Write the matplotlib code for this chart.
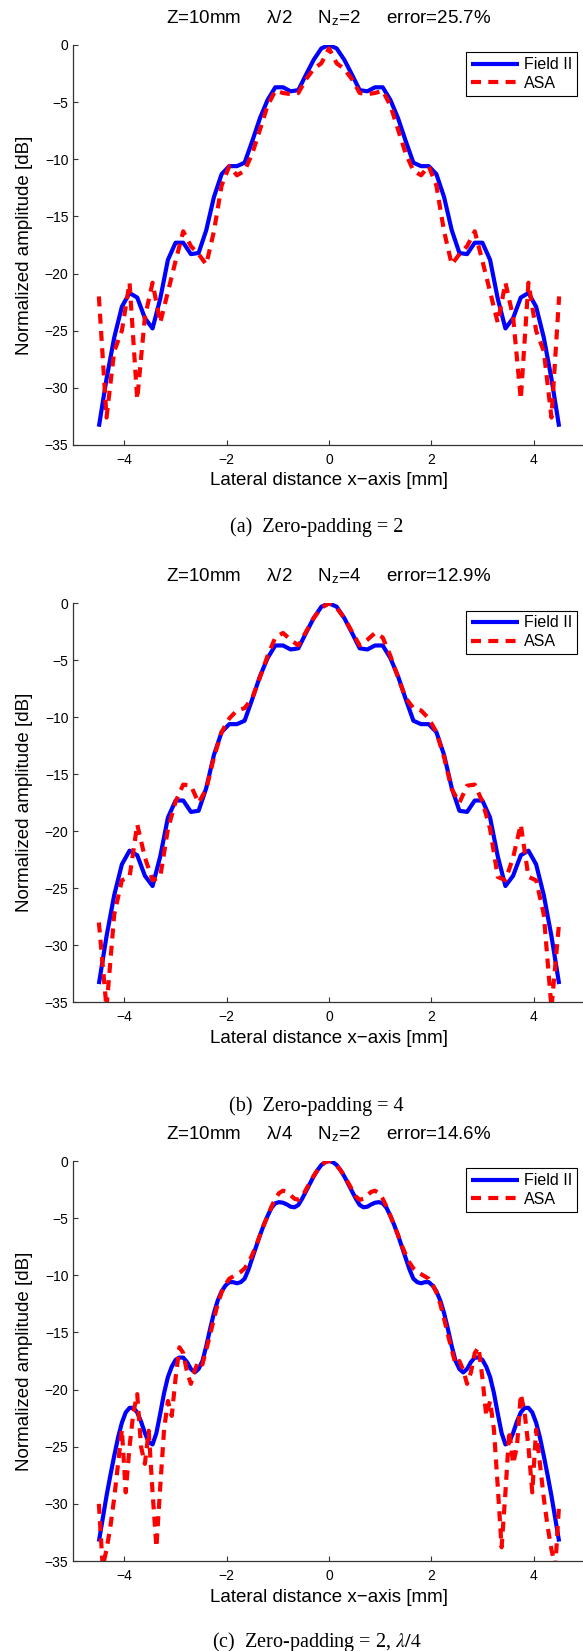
import numpy as np
import matplotlib
matplotlib.use('Agg')
import matplotlib.pyplot as plt

plt.rcParams['font.family'] = ['Liberation Sans', 'DejaVu Sans']
plt.rcParams['mathtext.fontset'] = 'stix'

# ---------------- data ----------------
# Profiles are symmetric about x = 0; values are given for x >= 0 (mm)
step_half_lambda = 0.15      # sampling for lambda/2 panels
step_quarter_lambda = 0.075  # sampling for lambda/4 panel

# Field II, lambda/2 sampling (x = 0, 0.15, ..., 4.5)
field_half = [0.0, -0.3, -1.3, -2.6, -3.95, -4.05, -3.7, -3.7, -4.8, -6.4,
              -8.4, -10.3, -10.6, -10.6, -11.3, -13.3, -16.2, -18.2, -18.3, -17.3,
              -17.3, -18.8, -22.2, -24.8, -23.9, -22.1, -21.7, -22.9, -25.6, -29.2,
              -33.4]
# ASA, panel (a): lambda/2, Nz = 2
asa_a_half = [-0.3, -1.6, -2.1, -3.0, -4.2, -4.3, -4.2, -4.0, -5.3, -7.4,
              -9.5, -11.0, -11.4, -10.6, -12.3, -16.3, -19.2, -18.3, -17.6, -16.3,
              -18.9, -21.6, -24.3, -20.8, -23.8, -31.0, -20.8, -25.0, -26.8, -32.6,
              -22.0]
# ASA, panel (b): lambda/2, Nz = 4
asa_b_half = [0.0, -0.4, -1.3, -2.5, -3.7, -3.2, -2.6, -3.0, -4.6, -6.5,
              -8.3, -9.2, -9.4, -10.1, -11.3, -13.5, -16.3, -17.5, -16.0, -15.9,
              -17.4, -19.8, -24.0, -24.3, -22.3, -19.4, -24.0, -24.3, -27.3, -35.5,
              -28.0]
# Field II, lambda/4 sampling (x = 0, 0.075, ..., 4.5)
field_c_half = [0.0, -0.1, -0.35, -0.8, -1.35, -2.0, -2.65, -3.3, -3.85, -4.05,
                -4.0, -3.8, -3.65, -3.6, -3.7, -4.1, -4.8, -5.6, -6.5, -7.5,
                -8.5, -9.5, -10.3, -10.6, -10.7, -10.6, -10.6, -10.9, -11.4, -12.2,
                -13.3, -14.7, -16.2, -17.5, -18.2, -18.5, -18.2, -17.6, -17.2, -17.2,
                -17.4, -18.0, -18.9, -20.3, -22.1, -23.8, -24.8, -24.6, -23.8, -22.8,
                -22.0, -21.6, -21.6, -22.0, -22.9, -24.2, -25.8, -27.5, -29.3, -31.3,
                -33.3]
# ASA, panel (c): lambda/4, Nz = 2
asa_c_half = [0.0, -0.1, -0.4, -0.8, -1.3, -1.9, -2.5, -3.1, -3.4, -3.3,
              -3.0, -2.7, -2.6, -2.8, -3.3, -4.0, -4.8, -5.6, -6.5, -7.4,
              -8.2, -8.9, -9.4, -9.7, -9.9, -10.1, -10.3, -10.8, -11.5, -12.5,
              -13.8, -15.2, -16.5, -17.8, -17.5, -18.3, -19.5, -18.5, -16.8, -16.3,
              -19.0, -22.3, -21.0, -23.5, -28.5, -33.8, -29.0, -23.6, -26.5, -25.0,
              -20.4, -22.0, -25.0, -29.0, -23.5, -26.5, -29.5, -32.0, -34.0, -35.5,
              -30.0]

titles = ["Z=10mm     \u03bb/2     N$_\\mathregular{z}$=2     error=25.7%",
          "Z=10mm     \u03bb/2     N$_\\mathregular{z}$=4     error=12.9%",
          "Z=10mm     \u03bb/4     N$_\\mathregular{z}$=2     error=14.6%"]
captions = ["(a)  Zero-padding = 2",
            "(b)  Zero-padding = 4",
            "(c)  Zero-padding = 2, $\\lambda/4$"]
legend_labels = ["Field II", "ASA"]
xticks = [-4, -2, 0, 2, 4]
yticks = [0, -5, -10, -15, -20, -25, -30, -35]
xlabel = "Lateral distance x\u2212axis [mm]"
ylabel = "Normalized amplitude [dB]"


def full_profile(half, step):
    half = np.asarray(half, dtype=float)
    xh = np.arange(len(half)) * step
    x = np.concatenate([-xh[:0:-1], xh])
    y = np.concatenate([half[:0:-1], half])
    return x, y


series = [
    (full_profile(field_half, step_half_lambda), full_profile(asa_a_half, step_half_lambda)),
    (full_profile(field_half, step_half_lambda), full_profile(asa_b_half, step_half_lambda)),
    (full_profile(field_c_half, step_quarter_lambda), full_profile(asa_c_half, step_quarter_lambda)),
]

# ---------------- layout (pixels) ----------------
W, H = 583, 1651
fig = plt.figure(figsize=(W / 100, H / 100), dpi=100)
ax_left, ax_w = 73.3, 511.4
panels = [(45.0, 445.0), (603.3, 1002.3), (1161.0, 1561.0)]
title_base = [23.3, 581.6, 1139.3]
xlabel_base = [485.0, 1043.3, 1601.7]
caption_base = [531.7, 1111.0, 1647.0]
spine_col = '#333333'


def fx(px):
    return px / W


def fy(py):
    return 1 - py / H


for i, (top, bot) in enumerate(panels):
    ax = fig.add_axes([fx(ax_left), fy(bot), ax_w / W, (bot - top) / H])
    (xf, yf), (xa, ya) = series[i]
    l1, = ax.plot(xf, yf, color='#0000ff', lw=3.0, solid_joinstyle='round',
                  solid_capstyle='butt')
    l2, = ax.plot(xa, ya, color='#ff0000', lw=3.0, linestyle=(0, (2.4, 1.75)),
                  dash_capstyle='butt')
    ax.set_xlim(-5, 5)
    ax.set_ylim(-35, 0)
    ax.set_xticks(xticks)
    ax.set_yticks(yticks)
    ax.set_xticklabels(["\u2212%d" % -t if t < 0 else "%d" % t for t in xticks])
    ax.set_yticklabels(["\u2212%d" % -t if t < 0 else "%d" % t for t in yticks])
    for s in ['top', 'right']:
        ax.spines[s].set_visible(False)
    for s in ['left', 'bottom']:
        ax.spines[s].set_color(spine_col)
        ax.spines[s].set_linewidth(0.9)
    ax.tick_params(direction='in', length=3.6, width=0.8, color=spine_col,
                   labelsize=10, top=False, right=False)
    ax.tick_params(axis='x', pad=5.5)
    ax.tick_params(axis='y', pad=3.5)

    leg = ax.legend([l1, l2], legend_labels, loc='upper right',
                    bbox_to_anchor=(0.9844, 0.98175), borderaxespad=0,
                    fancybox=False, edgecolor='k', framealpha=1, fontsize=11.5,
                    handlelength=3.0, handletextpad=0.3, borderpad=0.3,
                    labelspacing=0.25)
    leg.get_frame().set_linewidth(0.8)

    cx = ax_left + ax_w / 2
    fig.text(fx(cx), fy(title_base[i]), titles[i], ha='center', va='baseline',
             fontsize=13.5)
    fig.text(fx(cx), fy(xlabel_base[i]), xlabel, ha='center', va='baseline',
             fontsize=13.5)
    fig.text(fx(25), fy((top + bot) / 2), ylabel, ha='center', va='center',
             rotation=90, fontsize=13.5)
    fig.text(fx(316.5), fy(caption_base[i]), captions[i], ha='center',
             va='baseline', fontsize=14.5,
             family=['Liberation Serif', 'DejaVu Serif'])

fig.savefig('out.png', dpi=100)
